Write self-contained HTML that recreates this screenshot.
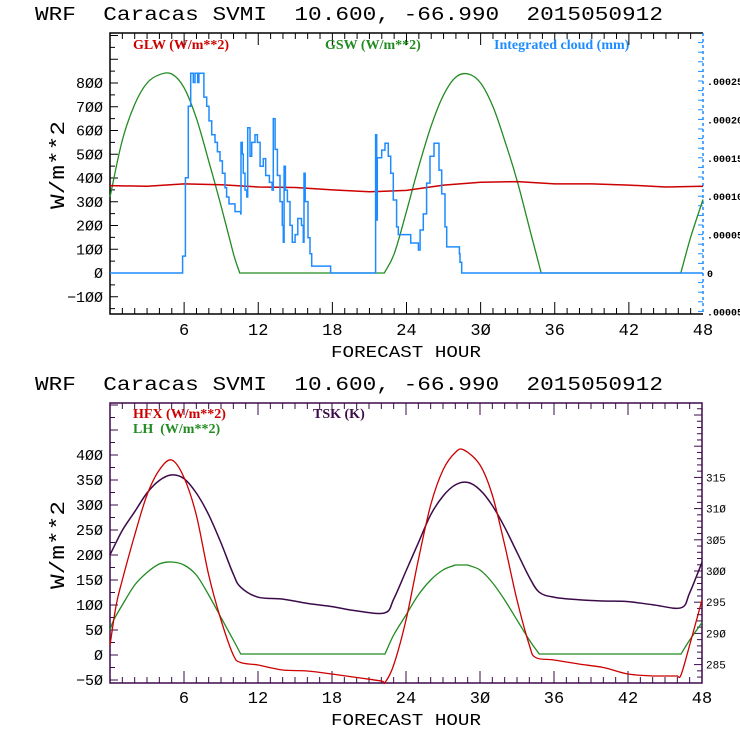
<!DOCTYPE html>
<html><head><meta charset="utf-8"><style>
body{margin:0;background:#fff;}
svg text{font-family:"Liberation Mono",monospace;white-space:pre;}
.leg{font-family:"Liberation Serif",serif;font-weight:bold;font-size:14px;}
</style></head><body>
<svg id="chart" width="740" height="740" viewBox="0 0 740 740" xmlns="http://www.w3.org/2000/svg" xml:space="preserve">
<rect width="740" height="740" fill="#fff"/>
</svg>
<script>
// ---------- data ----------
const gswHours = [0,1,2,3,4,5,6,7,8,9,10,10.5,22.2,23,24,25,26,27,28,29,30,31,32,33,34,34.9,46.2,47,48];
const gswVals  = [320,560,710,800,835,838,780,650,470,280,80,0,0,80,260,450,620,750,825,838,800,700,550,380,180,0,0,150,310];
const glwHours = [0,3,6,9,12,15,18,21,24,27,30,33,36,39,42,45,48];
const glwVals  = [368,365,375,372,362,360,350,342,348,370,382,385,375,375,370,362,365];
const cloudHours = [0,5.85,5.88,6.1,6.21,6.34,6.53,6.74,6.88,7.1,7.2,7.42,7.6,7.83,8.01,8.23,8.5,8.69,8.9,9.1,9.31,9.44,9.63,10.12,10.58,10.6,10.71,10.79,10.93,11.07,11.15,11.33,11.47,11.74,11.93,12.15,12.41,12.6,12.9,13.12,13.22,13.36,13.55,13.76,13.95,14.03,14.09,14.2,14.36,14.57,14.76,14.98,15.2,15.5,15.65,15.7,15.8,16.03,16.19,16.33,17.8,17.86,21.48,21.5,21.59,21.64,21.99,22.26,22.53,22.72,22.93,23.2,23.34,24.28,24.34,24.82,24.96,25.1,25.36,25.63,25.9,26.23,26.44,26.63,26.85,27.12,27.25,28.28,28.33,28.47,48];
const cloudVals = [0,0,2.2,12.4,12.4,21.7,26,24.8,26,24.8,26,26,22.9,21.7,19.8,18,17,15.8,14.6,13,11.1,9.9,9,8,7.7,17,15.5,13,10.8,9.9,18.9,15.2,17,18,17,13.9,14.9,12.7,11.8,10.8,20.1,16.1,12.7,9.3,6.2,4,13.9,10.8,9.3,6.2,4,5,7.1,6.2,4,13,9.3,4.6,2.5,0.9,0.9,0,0,18,6.9,15,16,16.9,15.2,13,9.5,6,5,5,3.9,3.9,3,5.6,7.7,11.7,15.2,16.9,16.9,13.4,10.3,6,3.4,2.5,1.4,0,0];
const hfxHours = [0,0.5,1,2,3,4,5,6,7,8,9,10,10.6,12,14,16,18,20,22,22.3,23,24,25,26,27,28,28.7,30,31,32,33,34,34.5,36,38,40,42,44,46,46.3,47,48];
const hfxVals  = [20,100,150,240,320,370,390,355,280,160,70,0,-15,-20,-30,-32,-38,-45,-52,-55,-20,70,190,300,370,405,410,380,320,220,110,20,-5,-10,-18,-25,-38,-42,-42,-40,20,110];
const lhHours = [0,0.3,1,2,3,4,5,6,7,8,9,10,10.6,22.3,23,24,25,26,27,28,29,30,31,32,33,34,34.8,46.3,47,48];
const lhVals  = [50,70,100,140,165,182,186,180,160,120,75,30,2,2,40,80,120,150,170,180,180,170,145,110,70,30,2,2,30,65];
const tskHours = [0,1,2,3,4,5,6,7,8,9,10,10.6,12,14,16,18,20,22.3,23,24,25,26,27,28,29,30,31,32,33,34,34.8,36,38,40,42,44,46.3,47,48];
const tskVals  = [302.6,306.5,309.5,312.5,314.5,315.4,314.8,312.5,309,304.5,299.5,297.4,295.8,295.5,294.8,294.3,293.6,293.3,295.5,300,304.5,309,312,313.8,314.2,313,310.5,307,303,299,296.6,295.8,295.4,295.2,295.1,294.6,294.1,296.5,301.4];
const xTicks = [6,12,18,24,30,36,42,48];
const topYTicks = [-100,0,100,200,300,400,500,600,700,800];
const cloudTicks = [-5,0,5,10,15,20,25];
const cloudTickLabels = [".00005","0",".00005",".00010",".00015",".00020",".00025"];
const botYTicks = [-50,0,50,100,150,200,250,300,350,400];
const tskTicks = [285,290,295,300,305,310,315];

const NS="http://www.w3.org/2000/svg";
const svg=document.getElementById('chart');
function mk(tag,attrs,parent){const e=document.createElementNS(NS,tag);for(const k in attrs)e.setAttribute(k,attrs[k]);(parent||svg).appendChild(e);return e;}
function txt(s,attrs,parent){const e=mk('text',attrs,parent);e.textContent=s;return e;}
function linePath(hs,vs,fx,fy){return hs.map((h,i)=>(i?'L':'M')+fx(h).toFixed(1)+','+fy(vs[i]).toFixed(1)).join(' ');}
function smoothPath(hs,vs,fx,fy){
 const P=hs.map((h,i)=>[fx(h),fy(vs[i])]);
 let d='M'+P[0][0].toFixed(1)+','+P[0][1].toFixed(1);
 for(let i=0;i<P.length-1;i++){
  const p0=P[Math.max(0,i-1)],p1=P[i],p2=P[i+1],p3=P[Math.min(P.length-1,i+2)];
  const flat=(vs[i]===vs[i+1]);
  let c1=[p1[0]+(p2[0]-p0[0])/6,p1[1]+(p2[1]-p0[1])/6];
  let c2=[p2[0]-(p3[0]-p1[0])/6,p2[1]-(p3[1]-p1[1])/6];
  if(flat||vs[Math.max(0,i-1)]===vs[i])c1=[p1[0]+(p2[0]-p1[0])/3,p1[1]+(p2[1]-p1[1])/3];
  if(flat||vs[Math.min(P.length-1,i+2)]===vs[i+1])c2=[p2[0]-(p2[0]-p1[0])/3,p2[1]-(p2[1]-p1[1])/3];
  d+=` C${c1[0].toFixed(1)},${c1[1].toFixed(1)} ${c2[0].toFixed(1)},${c2[1].toFixed(1)} ${p2[0].toFixed(1)},${p2[1].toFixed(1)}`;
 }
 return d;}

// ---------- top chart ----------
const T={l:110,r:703,t:33,b:314};
const tx=h=>T.l+(T.r-T.l)*h/48;
const ty=v=>273-v*0.2375;
const tyc=c=>273-c*7.68;
const PURP="#3c0a4a";

let g=mk('g',{});


let t=txt('WRF  Caracas SVMI  10.600, -66.990  2015050912',{x:35,y:20,'font-size':19,textLength:628,lengthAdjust:'spacingAndGlyphs',fill:'#000'},g);


let fr=mk('path',{d:`M${T.r},${T.t} H${T.l} V${T.b} H${T.r}`,fill:'none',stroke:'#000','stroke-width':1.5},g);


let ra=mk('line',{x1:T.r,y1:T.t,x2:T.r,y2:T.b,stroke:'#1e8cff','stroke-width':1.5,'stroke-dasharray':'3,3'},g);


for(let h=1;h<48;h++){const L=h%6==0?12:6;
 mk('line',{x1:tx(h),x2:tx(h),y1:T.b,y2:T.b-L,stroke:'#000'},g);
 mk('line',{x1:tx(h),x2:tx(h),y1:T.t,y2:T.t+L,stroke:'#000'},g);}
for(let v=-150;v<=1000;v+=50){const y=ty(v);if(y<T.t||y>T.b)continue;
 mk('line',{x1:T.l,x2:T.l+(v%100==0?8:5),y1:y,y2:y,stroke:'#000'},g);}
for(let c=-5;c<=30;c+=1.25){const y=tyc(c);if(y<T.t||y>T.b)continue;
 mk('line',{x1:T.r-5,x2:T.r,y1:y,y2:y,stroke:'#1e8cff'},g);}
xTicks.forEach(h=>{const e=txt(String(h).replace(/0/g,'Ø'),{x:tx(h),y:335,'font-size':17,'text-anchor':'middle'},g);
 });
topYTicks.forEach(v=>{const e=txt(String(v).replace(/0/g,'Ø').replace('-','−'),{x:103,y:ty(v)+5,'font-size':15,'text-anchor':'end'},g);
 });
cloudTicks.forEach((c,i)=>{const e=txt(cloudTickLabels[i],{x:707,y:tyc(c)+4,'font-size':10,'font-weight':'bold'},g);
 });
t=txt('W/m**2',{x:0,y:0,'font-size':20,'text-anchor':'middle',transform:'translate(64,165) rotate(-90)',textLength:88,lengthAdjust:'spacingAndGlyphs'},g);

t=txt('FORECAST HOUR',{x:406,y:357,'font-size':17,'text-anchor':'middle',textLength:150,lengthAdjust:'spacingAndGlyphs'},g);

t=txt('GLW (W/m**2)',{x:133,y:49,fill:'#cc0000',class:'leg'},g);
t=txt('GSW (W/m**2)',{x:325,y:49,fill:'#228b22',class:'leg'},g);
t=txt('Integrated cloud (mm)',{x:494,y:49,fill:'#1e8cff',class:'leg'},g);

let p=mk('path',{d:smoothPath(gswHours,gswVals,tx,ty),fill:'none',stroke:'#228b22','stroke-width':1.3},g);

p=mk('path',{d:linePath(glwHours,glwVals,tx,ty),fill:'none',stroke:'#cc0000','stroke-width':1.5},g);

let d='M'+tx(cloudHours[0])+','+tyc(cloudVals[0]);
for(let i=1;i<cloudHours.length;i++){d+=' H'+tx(cloudHours[i]).toFixed(1)+' V'+tyc(cloudVals[i]).toFixed(1);}
p=mk('path',{d:d,fill:'none',stroke:'#1e8cff','stroke-width':1.5},g);


// ---------- bottom chart ----------
const B={l:110,r:702,t:403,b:683};
const bx=h=>B.l+(B.r-B.l)*h/48;
const by=v=>655-v*0.5;
const byk=k=>571-(k-300)*6.24;
g=mk('g',{});


t=txt('WRF  Caracas SVMI  10.600, -66.990  2015050912',{x:35,y:390,'font-size':19,textLength:628,lengthAdjust:'spacingAndGlyphs',fill:'#000'},g);

fr=mk('rect',{x:B.l,y:B.t,width:B.r-B.l,height:B.b-B.t,fill:'none',stroke:PURP,'stroke-width':1.5},g);

for(let h=1;h<48;h++){const L=h%6==0?12:6;
 mk('line',{x1:bx(h),x2:bx(h),y1:B.b,y2:B.b-L,stroke:PURP},g);
 mk('line',{x1:bx(h),x2:bx(h),y1:B.t,y2:B.t+L,stroke:PURP},g);}
for(let v=-50;v<=550;v+=25){const y=by(v);if(y<B.t||y>B.b)continue;
 mk('line',{x1:B.l,x2:B.l+(v%50==0?8:5),y1:y,y2:y,stroke:PURP},g);}
for(let k=282;k<=330;k++){const y=byk(k);if(y<B.t||y>B.b)continue;
 mk('line',{x1:B.r-(k%5==0?8:5),x2:B.r,y1:y,y2:y,stroke:PURP},g);}
xTicks.forEach(h=>{const e=txt(String(h).replace(/0/g,'Ø'),{x:bx(h),y:703,'font-size':17,'text-anchor':'middle'},g);
 });
botYTicks.forEach(v=>{const e=txt(String(v).replace(/0/g,'Ø').replace('-','−'),{x:103,y:by(v)+5,'font-size':15,'text-anchor':'end'},g);
 });
tskTicks.forEach(k=>{const e=txt(String(k).replace(/0/g,'Ø'),{x:706,y:byk(k)+4,'font-size':11},g);
 });
t=txt('W/m**2',{x:0,y:0,'font-size':20,'text-anchor':'middle',transform:'translate(64,545) rotate(-90)',textLength:88,lengthAdjust:'spacingAndGlyphs'},g);

t=txt('FORECAST HOUR',{x:406,y:725,'font-size':17,'text-anchor':'middle',textLength:150,lengthAdjust:'spacingAndGlyphs'},g);

t=txt('HFX (W/m**2)',{x:133,y:418,fill:'#cc0000',class:'leg'},g);
t=txt('TSK (K)',{x:313,y:418,fill:PURP,class:'leg'},g);
t=txt('LH  (W/m**2)',{x:133,y:433,fill:'#228b22',class:'leg'},g);
p=mk('path',{d:smoothPath(lhHours,lhVals,bx,by),fill:'none',stroke:'#228b22','stroke-width':1.3},g);

p=mk('path',{d:smoothPath(tskHours,tskVals,bx,byk),fill:'none',stroke:PURP,'stroke-width':1.5},g);

p=mk('path',{d:smoothPath(hfxHours,hfxVals,bx,by),fill:'none',stroke:'#cc0000','stroke-width':1.3},g);

</script>
</body></html>
